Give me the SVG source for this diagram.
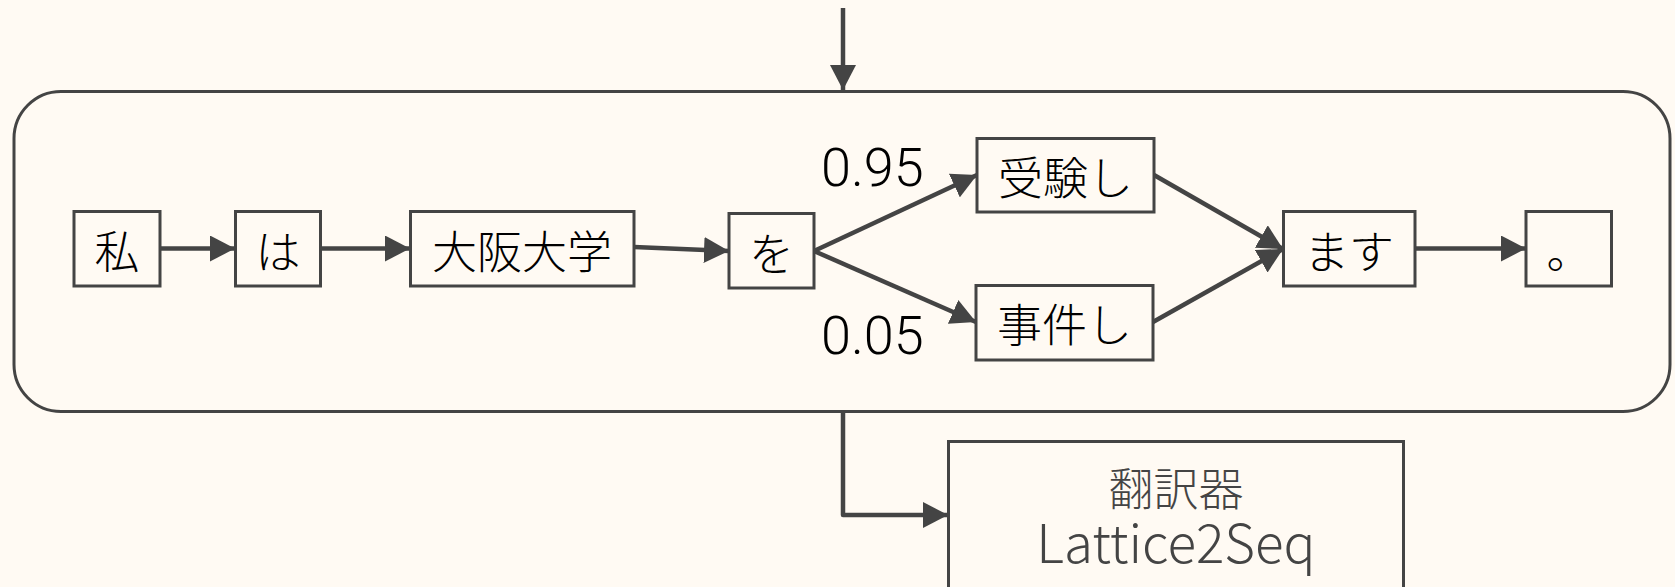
<svg xmlns="http://www.w3.org/2000/svg" width="1675" height="587" viewBox="0 0 1675 587">
  <style>
    .box { fill: #FFFAF3; stroke: #444444; stroke-width: 3; }
    .jp { font-family: "Noto Sans CJK JP", "Noto Sans", sans-serif; font-weight: 300; font-size: 45px; fill: #000000; text-anchor: middle; dominant-baseline: central; }
    .num { font-family: Roboto, "Liberation Sans", sans-serif; font-weight: 300; font-size: 54px; fill: #000000; }
    .conn { fill: none; stroke: #444444; stroke-width: 4.5; }
  </style>
  <defs>
    <marker id="arrow" markerUnits="userSpaceOnUse" markerWidth="26" markerHeight="26" refX="25" refY="13" orient="auto">
      <path d="M0,0 L25,13 L0,26 Z" fill="#444444"/>
    </marker>
  </defs>
  <rect x="0" y="0" width="1675" height="587" fill="#FFFAF3"/>

  <g id="lattice-frame">
    <rect x="14" y="91.5" width="1656" height="320" rx="47" ry="47" fill="#FFFAF3" stroke="#444444" stroke-width="3"/>
  </g>

  <g id="connectors">
    <line class="conn" x1="843" y1="8" x2="843" y2="90" marker-end="url(#arrow)"/>
    <line class="conn" x1="160" y1="248.5" x2="235" y2="248.5" marker-end="url(#arrow)"/>
    <line class="conn" x1="320" y1="248.5" x2="410" y2="248.5" marker-end="url(#arrow)"/>
    <line class="conn" x1="634" y1="247" x2="729" y2="251" marker-end="url(#arrow)"/>
    <line class="conn" x1="814" y1="251" x2="977" y2="175" marker-end="url(#arrow)"/>
    <line class="conn" x1="814" y1="251" x2="976" y2="322" marker-end="url(#arrow)"/>
    <line class="conn" x1="1154" y1="175" x2="1283" y2="249" marker-end="url(#arrow)"/>
    <line class="conn" x1="1153" y1="322" x2="1283" y2="249" marker-end="url(#arrow)"/>
    <line class="conn" x1="1415" y1="248.5" x2="1526" y2="248.5" marker-end="url(#arrow)"/>
    <polyline class="conn" points="843,412 843,515 948,515" stroke-linejoin="round" marker-end="url(#arrow)"/>
  </g>

  <g id="label-095"><text class="num" x="821" y="186">0.95</text></g>
  <g id="label-005"><text class="num" x="821" y="354">0.05</text></g>

  <g id="node-watashi">
    <rect class="box" x="74" y="211.5" width="86" height="74.5"/>
    <text class="jp" x="117" y="249">私</text>
  </g>
  <g id="node-wa">
    <rect class="box" x="235.5" y="211.5" width="85" height="74.5"/>
    <text class="jp" x="278" y="249">は</text>
  </g>
  <g id="node-osakadaigaku">
    <rect class="box" x="410.5" y="211.5" width="223.5" height="74.5"/>
    <text class="jp" x="522" y="249">大阪大学</text>
  </g>
  <g id="node-wo">
    <rect class="box" x="729" y="213.5" width="85" height="74.5"/>
    <text class="jp" x="771.5" y="251">を</text>
  </g>
  <g id="node-juken">
    <rect class="box" x="977" y="138.5" width="177" height="73.5"/>
    <text class="jp" x="1065.5" y="175">受験し</text>
  </g>
  <g id="node-jiken">
    <rect class="box" x="976" y="285.5" width="177" height="74.5"/>
    <text class="jp" x="1064.5" y="322.5">事件し</text>
  </g>
  <g id="node-masu">
    <rect class="box" x="1283.5" y="211.5" width="131.5" height="74.5"/>
    <text class="jp" x="1349" y="249">ます</text>
  </g>
  <g id="node-maru">
    <rect class="box" x="1526" y="211.5" width="85.5" height="74.5"/>
    <text class="jp" x="1569" y="249">。</text>
  </g>

  <g id="node-translator">
    <rect class="box" x="948.5" y="441.5" width="455" height="170"/>
    <text font-family="Noto Sans CJK JP, Noto Sans, sans-serif" font-weight="300" fill="#444444" text-anchor="middle"><tspan x="1176" y="506" font-size="45">翻訳器</tspan><tspan x="1176" y="563" font-size="53">Lattice2Seq</tspan></text>
  </g>
</svg>
